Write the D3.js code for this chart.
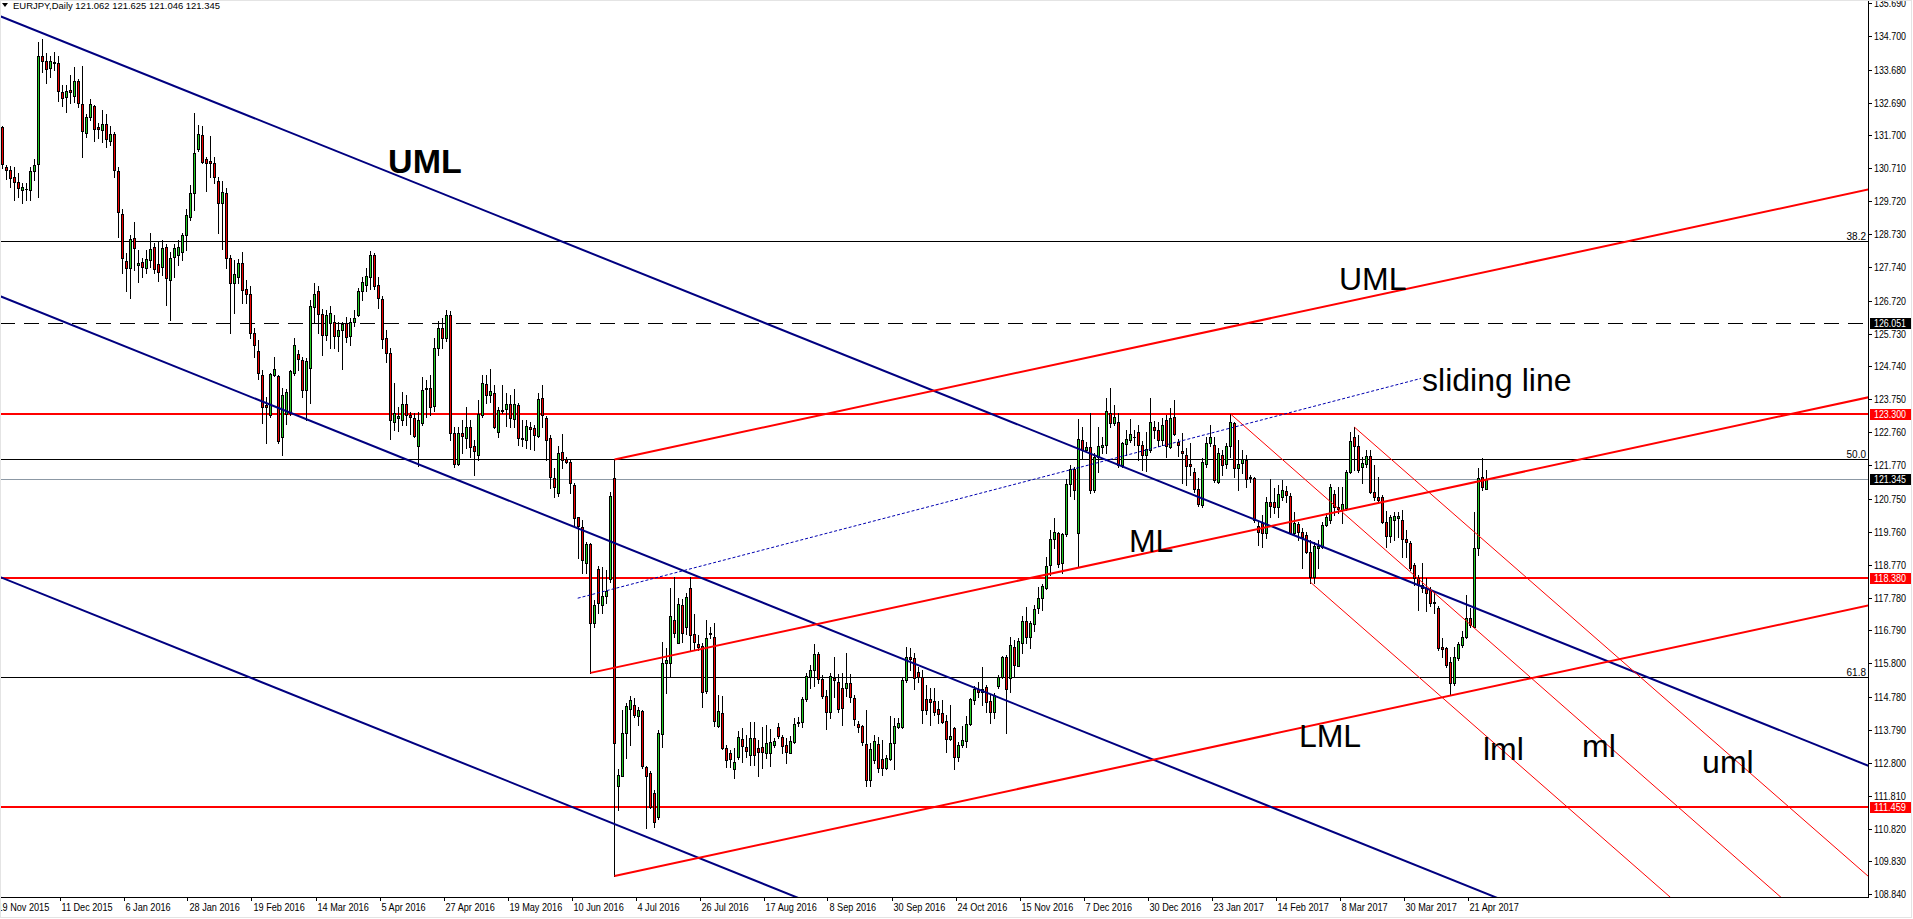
<!DOCTYPE html>
<html>
<head>
<meta charset="utf-8">
<script src="https://cdn.jsdelivr.net/npm/d3@7"></script>
<style>
body { margin: 0; background: #ffffff; overflow: hidden; }
svg { display: block; }
</style>
</head>
<body>
<script>
// daily bars, 20 Nov 2015 .. 27 Apr 2017
var opens = [
	131.94,130.76,130.66,130.46,130.31,130.06,130.08,130.06,130.64,130.84,
	134.10,133.93,133.72,133.87,133.87,133.02,132.87,133.07,132.89,133.34,
	132.64,131.77,132.27,132.60,131.95,131.87,132.04,131.54,131.74,130.63,
	129.34,127.93,127.70,128.60,127.80,127.88,127.72,127.95,128.33,127.82,
	127.75,128.33,127.35,128.05,128.10,128.20,128.69,129.24,129.96,131.28,
	131.72,130.98,130.92,130.86,130.32,129.66,129.96,128.00,127.25,127.43,
	127.85,127.07,126.92,125.74,125.22,124.49,123.58,123.28,124.49,124.44,
	122.61,123.31,123.33,124.54,125.12,124.94,124.04,124.69,126.53,127.00,
	126.31,125.69,126.06,126.09,125.66,125.84,126.04,125.66,126.09,126.29,
	127.00,127.20,127.45,128.10,127.18,126.77,125.61,125.14,123.08,123.18,
	123.13,123.60,123.28,123.18,122.33,123.05,124.05,124.08,123.55,125.30,
	125.90,125.60,126.30,122.75,121.80,122.75,122.58,122.93,122.35,122.07,
	123.28,124.21,123.88,123.95,122.78,123.41,123.45,123.61,123.15,123.58,
	122.58,122.53,122.93,122.88,122.65,123.78,123.18,122.58,121.37,120.92,
	122.17,121.94,121.87,121.17,120.20,119.90,118.83,119.38,117.00,118.63,
	117.56,117.83,118.33,121.37,112.10,112.41,113.71,114.41,114.54,114.21,
	114.36,112.67,112.49,111.88,111.18,113.67,115.82,115.82,117.10,116.42,
	117.56,116.90,118.06,116.68,116.38,116.32,114.95,116.67,116.60,113.91,
	114.29,113.24,113.09,112.61,112.99,113.53,113.27,113.04,113.54,113.24,
	113.27,113.09,113.10,113.34,113.87,113.57,113.34,113.11,113.44,114.00,
	114.04,114.71,115.38,115.60,116.08,115.32,114.81,114.34,115.37,115.25,
	115.05,115.05,115.20,114.74,113.97,113.91,113.37,112.28,112.88,113.37,
	112.91,112.63,112.91,113.39,113.89,113.89,115.30,115.98,115.95,115.55,
	115.38,114.71,114.71,114.67,114.41,114.29,114.07,113.51,113.84,112.99,
	113.34,113.47,113.97,114.69,115.01,114.94,115.07,114.67,114.34,115.10,
	115.38,115.98,115.35,116.30,115.72,116.40,117.08,116.58,116.98,117.46,
	117.76,118.06,118.76,119.53,119.71,118.83,119.69,121.20,121.64,119.71,
	122.53,122.22,122.32,121.02,122.00,122.30,122.37,123.33,123.05,123.08,
	121.77,122.41,122.53,122.63,122.78,122.38,122.07,122.22,122.91,122.83,
	122.53,123.13,122.30,123.21,122.47,122.20,122.07,121.80,121.57,121.04,
	120.57,121.80,122.43,122.37,121.27,122.07,121.80,122.33,123.03,121.67,
	121.82,121.92,121.42,121.37,119.92,120.02,119.71,120.67,120.67,120.52,
	120.82,121.00,120.84,119.73,119.99,119.76,119.66,119.16,118.41,119.26,
	119.31,119.97,120.12,120.90,120.50,120.42,120.47,121.57,122.61,122.33,
	121.70,121.80,122.04,120.97,120.80,120.80,120.07,119.63,120.12,120.19,
	120.12,119.53,119.43,118.76,118.36,118.16,118.06,118.01,117.66,117.46,
	116.28,116.25,115.85,115.20,115.95,116.35,116.60,117.15,116.90,119.26,
	121.40,121.062
];
var highs = [
	131.97,130.80,130.79,130.76,130.56,130.28,130.26,130.76,130.98,134.53,
	134.60,134.18,134.10,134.21,134.10,133.22,133.22,133.52,133.77,133.39,
	133.79,132.35,132.79,132.62,132.07,132.47,132.34,131.99,131.79,130.76,
	129.48,128.15,128.70,129.09,128.25,128.00,128.25,128.75,128.45,128.53,
	128.55,128.43,128.20,128.43,128.55,128.75,129.49,130.21,132.37,132.02,
	131.99,131.04,131.67,131.04,130.46,130.33,130.11,128.10,127.95,127.97,
	128.18,127.35,127.17,125.89,125.54,124.64,123.83,124.54,125.02,124.49,
	124.09,124.06,124.62,125.59,125.24,125.04,124.99,126.75,127.27,127.15,
	126.47,126.45,126.57,126.29,126.09,126.09,126.24,126.19,126.43,127.10,
	127.45,127.70,128.23,128.15,127.45,126.85,125.85,125.30,124.23,123.53,
	123.98,123.88,123.38,123.33,123.38,124.43,124.33,124.49,125.60,126.10,
	126.20,126.45,126.40,122.93,122.93,123.13,123.53,123.13,122.53,123.73,
	124.48,124.48,124.66,124.18,123.53,124.18,123.93,123.88,124.05,123.63,
	123.13,123.13,123.08,122.98,123.93,124.18,123.25,122.68,121.67,122.35,
	122.71,122.02,121.92,121.22,120.22,120.12,119.46,119.41,117.71,118.73,
	118.71,118.61,120.97,121.94,112.60,114.39,114.60,114.82,114.74,114.49,
	114.39,112.71,112.54,111.98,113.79,116.45,116.25,118.06,118.41,117.76,
	117.73,117.91,118.41,117.29,116.65,116.40,117.10,116.90,117.00,114.85,
	114.82,113.34,113.19,113.24,113.77,113.84,113.64,114.04,114.04,113.49,
	113.89,113.94,113.82,113.54,114.01,113.64,113.54,113.61,114.14,114.17,
	114.79,115.50,115.75,116.38,116.15,115.45,114.99,115.50,115.98,115.48,
	115.50,116.10,115.48,114.84,114.07,113.94,114.39,113.39,113.64,113.57,
	113.49,113.04,114.21,114.14,114.14,115.37,116.28,116.25,116.10,115.70,
	115.60,115.14,115.05,115.05,114.67,114.69,114.24,114.54,113.89,113.44,
	113.91,114.21,114.74,115.12,115.25,115.68,115.15,114.84,114.89,115.45,
	116.02,116.05,116.58,116.50,116.55,117.22,117.50,117.08,117.56,118.11,
	118.19,119.01,119.82,120.17,119.76,119.73,121.34,121.77,121.70,123.15,
	122.93,122.47,123.33,122.12,122.93,122.62,123.78,124.08,123.58,123.33,
	122.47,122.83,123.15,122.83,122.98,122.50,122.78,123.78,123.10,123.08,
	123.18,123.28,123.48,123.73,122.55,122.73,122.27,122.43,121.67,121.37,
	121.97,122.63,122.98,122.63,122.27,122.22,122.43,123.31,123.08,122.53,
	122.22,122.07,121.47,121.40,120.07,120.27,120.82,121.34,121.07,121.17,
	121.32,121.14,120.92,120.37,120.07,119.86,119.76,119.51,119.46,119.51,
	120.07,120.32,121.20,121.02,121.12,121.12,121.62,122.78,122.91,122.68,
	122.02,122.22,122.22,121.77,121.42,120.87,120.40,120.27,120.37,120.37,
	120.42,119.81,119.49,118.81,118.46,118.81,118.36,118.11,117.96,117.51,
	116.55,116.28,116.00,116.30,116.45,116.78,117.86,117.46,120.37,121.67,
	121.97,121.625
];
var lows = [
	130.71,130.38,130.16,129.76,129.86,129.66,129.76,129.76,130.36,129.86,
	133.62,133.29,133.47,133.67,132.75,132.59,132.42,132.67,132.72,132.55,
	131.04,131.65,132.17,131.52,131.62,131.51,131.36,131.41,130.46,128.65,
	127.55,127.00,126.80,127.65,127.30,127.45,127.55,127.75,127.55,127.33,
	127.50,126.60,126.14,127.45,127.80,127.95,128.25,129.16,129.44,131.24,
	130.88,130.04,130.46,130.26,128.75,128.27,127.70,125.76,126.34,127.25,
	126.65,126.65,125.59,125.02,124.36,123.05,122.45,123.23,124.44,122.45,
	122.07,123.01,123.27,124.49,124.64,123.83,123.13,123.63,126.04,125.74,
	125.09,125.54,125.29,125.29,125.22,124.67,125.49,125.39,125.96,126.26,
	126.75,127.00,127.07,127.07,126.50,125.29,124.89,122.55,122.83,122.81,
	122.98,122.98,122.71,122.61,121.74,122.98,123.23,123.28,123.40,125.10,
	125.30,125.50,122.53,121.72,121.76,122.12,122.27,122.02,121.47,121.92,
	123.21,123.63,123.68,122.88,122.61,123.33,122.95,122.93,122.93,122.38,
	122.35,122.28,122.25,122.21,122.61,122.93,121.92,121.07,120.82,120.84,
	121.67,121.82,120.92,119.92,118.96,118.51,118.51,115.50,116.90,117.31,
	117.31,117.61,118.26,109.39,111.38,112.39,112.94,113.34,114.19,113.94,
	112.64,110.83,111.43,110.88,111.10,113.29,114.90,115.40,116.60,116.40,
	116.45,116.68,116.18,116.20,116.20,114.47,114.90,116.55,113.91,113.89,
	113.21,112.67,112.67,112.34,112.91,112.84,112.99,112.74,112.74,112.39,
	112.64,112.94,112.70,113.29,113.54,113.09,112.79,113.09,113.41,113.91,
	113.89,114.67,115.05,115.10,115.22,114.74,113.81,114.14,114.79,114.34,
	113.94,114.80,114.64,113.94,113.74,113.34,112.10,112.10,112.79,112.51,
	112.43,112.61,112.89,112.61,113.84,113.84,115.25,115.60,115.01,115.25,
	114.01,114.27,113.94,114.24,113.99,113.99,113.14,113.49,112.61,112.87,
	113.29,113.29,113.94,114.57,114.77,114.54,114.34,114.01,114.14,115.05,
	115.35,113.71,114.94,115.40,115.72,116.12,116.40,116.25,116.78,117.31,
	117.41,118.03,118.46,119.26,118.71,118.53,119.63,120.84,120.74,118.69,
	121.95,122.17,120.92,120.97,121.57,122.12,122.12,122.93,122.98,121.70,
	121.70,122.07,122.47,122.37,121.92,121.63,121.60,122.17,122.60,122.33,
	122.38,122.02,122.28,122.68,122.03,121.22,121.17,121.47,120.97,120.54,
	120.52,121.72,122.33,121.27,121.22,121.47,121.67,122.02,121.40,121.02,
	121.52,121.12,121.27,120.07,119.36,119.31,119.56,120.22,120.32,120.22,
	120.72,120.67,119.70,119.66,119.51,118.66,119.11,118.23,118.21,118.66,
	119.26,119.92,120.02,120.27,120.32,120.02,120.42,121.52,121.62,121.57,
	121.22,121.72,120.92,120.72,120.62,120.02,119.31,119.46,119.51,119.61,
	119.01,119.01,118.61,118.16,117.41,117.96,117.36,117.51,117.31,116.20,
	116.00,115.70,114.85,115.15,115.90,116.30,116.55,116.90,116.88,119.06,
	121.02,121.046
];
var closes = [
	130.84,130.66,130.41,130.31,130.11,130.16,130.10,130.64,130.81,134.10,
	133.93,133.69,133.95,133.90,133.05,132.82,133.04,133.01,133.35,132.67,
	131.82,132.27,132.64,131.89,131.89,132.04,131.59,131.74,130.66,129.39,
	128.00,127.72,128.58,128.30,127.87,127.73,127.97,128.27,127.67,127.58,
	128.30,127.40,128.00,128.30,128.35,128.69,129.31,129.98,131.16,131.74,
	130.91,130.88,130.88,130.46,129.66,130.01,128.00,127.27,127.52,127.85,
	127.05,126.93,125.76,125.39,124.54,123.51,123.53,124.51,124.66,122.51,
	123.89,123.96,124.59,125.39,124.96,124.02,124.92,126.57,126.92,126.31,
	125.69,126.29,126.34,125.66,125.84,126.02,125.64,126.09,126.21,127.00,
	127.30,127.47,128.10,127.15,126.80,125.56,125.14,123.13,123.33,123.25,
	123.60,123.28,123.21,122.65,123.13,124.03,124.10,123.53,125.30,125.90,
	125.60,126.30,122.75,121.80,122.75,122.65,122.93,122.31,122.18,123.31,
	124.25,123.88,124.01,122.91,123.43,123.44,123.61,123.18,123.61,122.58,
	122.55,122.95,122.85,122.68,123.75,123.28,122.53,121.40,121.10,122.12,
	121.92,121.87,121.22,120.17,119.92,118.91,119.38,117.00,117.56,117.61,
	117.83,117.99,120.84,113.39,112.44,113.71,114.50,114.68,114.24,114.39,
	112.69,112.41,111.48,111.03,113.69,115.82,115.90,117.21,116.72,117.59,
	116.72,117.79,116.65,116.45,116.30,114.92,116.55,116.71,114.07,114.37,
	113.24,112.89,112.91,112.84,113.59,113.32,113.17,113.54,113.04,113.14,
	113.14,113.39,113.44,113.47,113.61,113.31,113.14,113.47,113.97,114.03,
	114.71,115.42,115.60,116.08,115.32,114.81,114.34,115.42,115.30,114.41,
	114.44,115.22,114.78,114.11,113.87,113.44,112.28,113.21,113.47,112.63,
	112.63,112.94,113.41,113.91,113.99,115.30,116.00,115.92,115.35,115.38,
	114.39,114.39,114.64,114.34,114.27,114.04,113.51,113.61,112.97,113.34,
	113.49,113.97,114.71,115.01,114.94,115.01,114.64,114.34,114.84,115.38,
	115.98,115.02,116.35,115.75,116.48,117.08,116.58,117.02,117.43,117.76,
	118.13,118.73,119.53,119.76,118.79,119.69,121.20,121.64,121.02,122.55,
	122.22,122.32,121.02,122.02,122.34,122.37,123.41,123.05,123.23,121.77,
	122.43,122.55,122.71,122.61,122.38,122.07,122.24,123.08,122.83,122.53,
	122.98,122.33,123.18,122.71,122.38,122.13,121.74,121.74,121.04,120.59,
	121.87,122.45,122.61,121.32,122.13,121.77,122.33,123.08,121.67,121.80,
	121.94,121.34,121.37,120.12,119.76,119.73,120.67,120.54,120.52,120.90,
	121.02,120.87,119.73,120.03,119.76,119.61,119.16,118.41,119.33,119.33,
	119.97,120.22,121.12,120.50,120.44,120.60,121.57,122.51,122.35,121.62,
	121.84,122.04,120.97,120.80,120.72,120.07,119.63,120.20,120.24,120.24,
	119.53,119.46,118.66,118.36,118.16,118.06,117.93,117.61,117.61,116.25,
	116.22,115.75,115.20,116.00,116.38,116.60,117.15,116.95,119.26,121.37,
	121.10,121.345
];
var tickBars = [-1, 15, 31, 47, 63, 79, 95, 111, 127, 143, 159, 175, 191, 207, 223, 239, 255, 271, 287, 303, 319, 335, 351, 367];
var tickDates = ["19 Nov 2015", "11 Dec 2015", "6 Jan 2016", "28 Jan 2016", "19 Feb 2016", "14 Mar 2016", "5 Apr 2016", "27 Apr 2016", "19 May 2016", "10 Jun 2016", "4 Jul 2016", "26 Jul 2016", "17 Aug 2016", "8 Sep 2016", "30 Sep 2016", "24 Oct 2016", "15 Nov 2016", "7 Dec 2016", "30 Dec 2016", "23 Jan 2017", "14 Feb 2017", "8 Mar 2017", "30 Mar 2017", "21 Apr 2017"];
var priceTicks = ["135.690", "134.700", "133.680", "132.690", "131.700", "130.710", "129.720", "128.730", "127.740", "126.720", "125.730", "124.740", "123.750", "122.760", "121.770", "120.750", "119.760", "118.770", "117.780", "116.790", "115.800", "114.780", "113.790", "112.800", "111.810", "110.820", "109.830", "108.840"];
var fibLevels = [128.52, 121.94, 115.38];
var fibNames = ["38.2", "50.0", "61.8"];
var redLevels = [123.300, 118.380, 111.459];
var dashLevel = 126.051;
var lastPrice = 121.345;
var titleText = "EURJPY,Daily  121.062 121.625 121.046 121.345";
// trend lines as [bar, price, bar, price]
var blueFork = [[0, 135.266, 371, 117.327], [0, 126.831, 371, 108.861], [0, 118.367, 371, 100.397]];
var redFork = [[153, 121.94, 466, 130.06], [147, 115.51, 466, 123.80], [153, 109.39, 466, 117.53]];
var smallFork = [[338, 122.91, 400, 116.38], [307, 123.31, 400, 113.47], [327, 118.24, 400, 110.54]];
var slidingLine = [143.8, 117.76, 354.6, 124.38];
var notes = ["UML", "UML", "sliding line", "ML", "LML", "lml", "ml", "uml"];
var noteBars = [96.4, 334.1, 354.9, 281.6, 324.1, 370.1, 394.9, 424.9];
var notePrices = [130.57, 127.04, 124.01, 119.16, 113.28, 112.89, 112.98, 112.50];

var plotW = 1868, plotH = 897;
var axisFont = "Tahoma, 'Liberation Sans', Arial, sans-serif";
var svg = d3.select("body")
	.append("svg")
	.attr("width", 1913)
	.attr("height", 919)
	.style("background-color", "#ffffff");
var x = d3.scaleLinear().domain([0, 371]).range([2.5, 1486.5]);
var y = d3.scaleLinear().domain([108.84, 135.69]).range([894.3, 3]);
function py (p) { return Math.round(y(p)) + 0.5; }
function at (line, k) {
	return line[1] + (line[3] - line[1]) * (k - line[0]) / (line[2] - line[0]);
}

svg.append("defs").append("clipPath")
	.attr("id", "plot")
	.append("rect")
	.attr("width", plotW)
	.attr("height", plotH);
var plot = svg.append("g").attr("clip-path", "url(#plot)");

// horizontal levels
fibLevels.forEach(function (v, i) {
	plot.append("line")
		.attr("x1", 0).attr("x2", plotW)
		.attr("y1", py(v)).attr("y2", py(v))
		.attr("stroke", "#000000");
	plot.append("text")
		.attr("x", plotW - 2)
		.attr("y", py(v) - 2)
		.attr("text-anchor", "end")
		.style("font", "10px " + axisFont)
		.text(fibNames[i]);
});
plot.append("line")
	.attr("x1", 0).attr("x2", plotW)
	.attr("y1", py(dashLevel)).attr("y2", py(dashLevel))
	.attr("stroke", "#000000")
	.attr("stroke-dasharray", "15,9");
plot.append("line")
	.attr("x1", 0).attr("x2", plotW)
	.attr("y1", py(lastPrice)).attr("y2", py(lastPrice))
	.attr("stroke", "#8c98a4");
redLevels.forEach(function (v) {
	plot.append("line")
		.attr("x1", 0).attr("x2", plotW)
		.attr("y1", Math.round(y(v))).attr("y2", Math.round(y(v)))
		.attr("stroke", "#ff0000")
		.attr("stroke-width", 2);
});

// candles
var bars = plot.append("g");
opens.forEach(function (o, k) {
	var c = closes[k];
	var cx = x(k);
	var top = Math.round(y(Math.max(o, c)));
	var bot = Math.round(y(Math.min(o, c)));
	bars.append("line")
		.attr("x1", cx).attr("x2", cx)
		.attr("y1", Math.round(y(highs[k]))).attr("y2", Math.round(y(lows[k])) + 1)
		.attr("stroke", "#000000");
	bars.append("rect")
		.attr("x", cx - 1.5).attr("width", 3)
		.attr("y", top).attr("height", Math.max(1, bot - top + 1))
		.attr("fill", "#000000");
	if (bot - top >= 2) {
		bars.append("rect")
			.attr("x", cx - 0.5).attr("width", 1)
			.attr("y", top + 1).attr("height", bot - top - 1)
			.attr("fill", c >= o ? "#22cc22" : "#f00000");
	}
});

// pitchforks
blueFork.forEach(function (l) {
	plot.append("line")
		.attr("x1", x(-2)).attr("y1", y(at(l, -2)))
		.attr("x2", x(470)).attr("y2", y(at(l, 470)))
		.attr("stroke", "#000080")
		.attr("stroke-width", 2);
});
redFork.forEach(function (l) {
	plot.append("line")
		.attr("x1", x(l[0])).attr("y1", y(l[1]))
		.attr("x2", x(470)).attr("y2", y(at(l, 470)))
		.attr("stroke", "#ff0000")
		.attr("stroke-width", 2);
});
smallFork.forEach(function (l) {
	plot.append("line")
		.attr("x1", x(l[0])).attr("y1", y(l[1]))
		.attr("x2", x(470)).attr("y2", y(at(l, 470)))
		.attr("stroke", "#ff0000")
		.attr("stroke-width", 1);
});
plot.append("line")
	.attr("x1", x(slidingLine[0])).attr("y1", y(slidingLine[1]))
	.attr("x2", x(slidingLine[2])).attr("y2", y(slidingLine[3]))
	.attr("stroke", "#0000b0")
	.attr("stroke-dasharray", "3,2");

// text labels
notes.forEach(function (t, i) {
	plot.append("text")
		.attr("x", x(noteBars[i]))
		.attr("y", y(notePrices[i]))
		.style("font-family", "Arial, 'Liberation Sans', sans-serif")
		.style("font-size", i === 0 ? "34px" : "32px")
		.style("font-weight", i === 0 ? "bold" : "normal")
		.attr("fill", "#000000")
		.text(t);
});

// title
svg.append("path")
	.attr("d", "M2,3 L8,3 L5,7 Z")
	.attr("fill", "#000000");
svg.append("text")
	.attr("x", 13).attr("y", 9)
	.attr("textLength", 207)
	.attr("lengthAdjust", "spacingAndGlyphs")
	.style("font", "9px " + axisFont)
	.text(titleText);

// axes frame
svg.append("line")
	.attr("x1", plotW + 0.5).attr("x2", plotW + 0.5)
	.attr("y1", 0).attr("y2", plotH + 1)
	.attr("stroke", "#000000");
svg.append("line")
	.attr("x1", 0).attr("x2", plotW + 1)
	.attr("y1", plotH + 0.5).attr("y2", plotH + 0.5)
	.attr("stroke", "#000000");

// price axis
priceTicks.forEach(function (t) {
	var v = +t;
	svg.append("line")
		.attr("x1", plotW).attr("x2", plotW + 4)
		.attr("y1", py(v)).attr("y2", py(v))
		.attr("stroke", "#000000");
	svg.append("text")
		.attr("x", 1874).attr("y", Math.round(y(v)) + 4)
		.attr("textLength", 32)
		.attr("lengthAdjust", "spacingAndGlyphs")
		.style("font", "10.5px " + axisFont)
		.text(t);
});
function priceBox (v, color, label) {
	svg.append("rect")
		.attr("x", 1870).attr("width", 42)
		.attr("y", Math.round(y(v)) - 5).attr("height", 11)
		.attr("fill", color);
	svg.append("text")
		.attr("x", 1874).attr("y", Math.round(y(v)) + 4)
		.attr("textLength", 32)
		.attr("lengthAdjust", "spacingAndGlyphs")
		.attr("fill", "#ffffff")
		.style("font", "10.5px " + axisFont)
		.text(label);
}
priceBox(dashLevel, "#000000", dashLevel.toFixed(3));
redLevels.forEach(function (v) { priceBox(v, "#ff0000", v.toFixed(3)); });
priceBox(lastPrice, "#000000", lastPrice.toFixed(3));

// time axis
tickBars.forEach(function (k, i) {
	var tx = Math.round(x(k)) - 2.5;
	svg.append("line")
		.attr("x1", tx).attr("x2", tx)
		.attr("y1", plotH).attr("y2", plotH + 4)
		.attr("stroke", "#000000");
	svg.append("text")
		.attr("transform", "translate(" + (x(k) - 1) + "," + 911 + ") scale(0.87,1)")
		.style("font", "10.5px " + axisFont)
		.text(tickDates[i]);
});

// window edge
svg.append("rect")
	.attr("x", 0.5).attr("y", 0.5)
	.attr("width", 1911).attr("height", 917)
	.attr("fill", "none")
	.attr("stroke", "#e4e4e4");
</script>
</body>
</html>
